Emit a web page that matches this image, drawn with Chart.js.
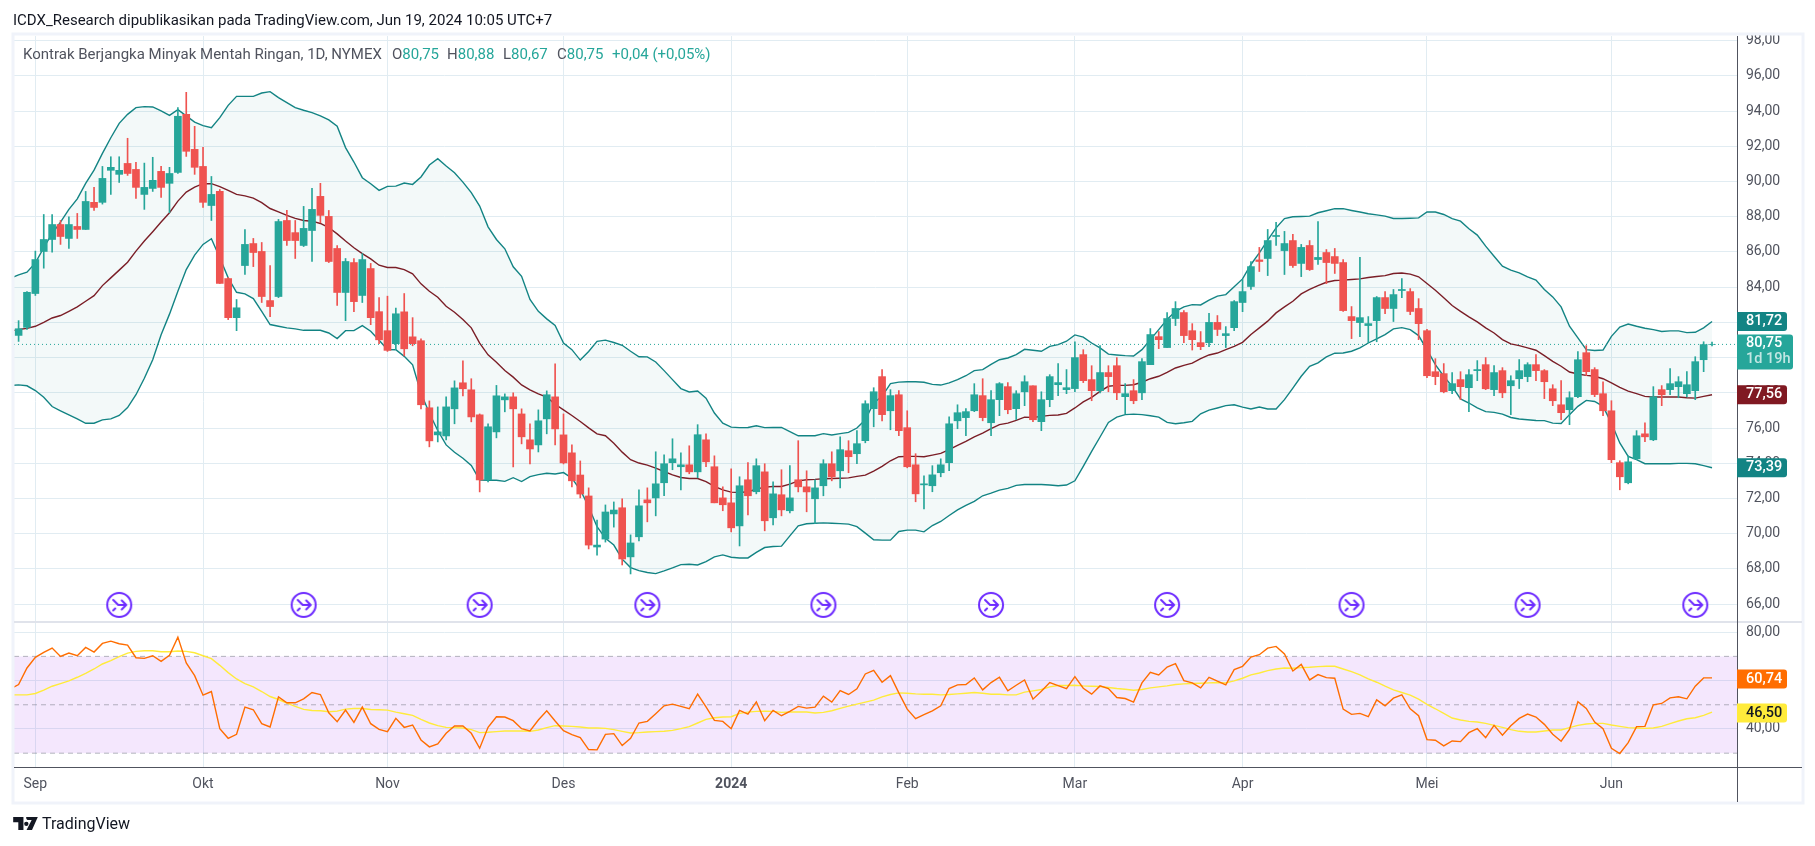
<!DOCTYPE html>
<html><head><meta charset="utf-8">
<style>
html,body{margin:0;padding:0;background:#fff;width:1815px;height:846px;overflow:hidden;font-family:Roboto,sans-serif}
canvas{position:absolute;left:0;top:0}
.t{position:absolute;white-space:nowrap;line-height:18px}
.g{color:#50535e}.v{color:#26a69a}
</style>
<script src="https://cdn.jsdelivr.net/npm/chart.js@4/dist/chart.umd.min.js"></script>
</head><body>
<canvas id="c" width="1815" height="846"></canvas>
<div class="t" style="left:13px;top:11px;font-size:15px;color:#131722" id="hd">ICDX_Research dipublikasikan pada TradingView.com, Jun 19, 2024 10:05 UTC+7</div>
<div class="t g" style="left:23px;top:45px;font-size:15px" id="lg">Kontrak Berjangka Minyak Mentah Ringan, 1D, NYMEX</div>
<div class="t" style="left:392px;top:45px;font-size:15px"><span class="g">O</span><span class="v">80,75</span></div>
<div class="t" style="left:447px;top:45px;font-size:15px"><span class="g">H</span><span class="v">80,88</span></div>
<div class="t" style="left:503px;top:45px;font-size:15px"><span class="g">L</span><span class="v">80,67</span></div>
<div class="t" style="left:557px;top:45px;font-size:15px"><span class="g">C</span><span class="v">80,75</span></div>
<div class="t v" style="left:612px;top:45px;font-size:15px">+0,04 (+0,05%)</div>
<svg style="position:absolute;left:13px;top:817px" width="25" height="13" viewBox="0 0 36 19"><path fill="#131722" d="M0 0H15V19H7.5V7.5H0ZM19 0H36L27.5 19H19.5L27 4.5H23A4 4 0 0 1 19 0ZM16 10A3.2 3.2 0 1 0 22.4 10A3.2 3.2 0 1 0 16 10Z"/></svg>
<div class="t" style="left:42px;top:815px;font-size:16px;color:#131722">TradingView</div>
<script>
const openP=[81.26,81.72,83.64,86.03,86.71,87.56,86.77,87.45,87.28,88.82,
88.82,90.64,90.41,91.03,90.69,89.27,89.61,90.58,89.9,90.52,
93.82,91.83,90.86,88.64,89.44,84.49,82.27,85.23,86.48,86.03,
83.24,83.47,87.79,87.1,86.37,87.22,89.16,88.02,86.2,83.7,
85.4,83.53,85.06,82.61,81.53,80.79,82.6,81.18,80.96,77.15,
75.61,75.55,77.09,78.57,78.17,76.75,73.05,75.78,77.6,77.77,
76.8,75.33,75.04,76.52,77.77,75.61,74.59,73.33,72.14,69.24,
69.69,71.12,71.47,68.68,69.82,71.92,72.03,72.89,74.03,73.8,
73.91,73.51,75.33,73.8,72.03,71.75,70.44,73.06,72.38,73.51,
70.9,72.21,71.3,73.06,72.66,71.98,72.72,73.97,73.57,74.71,
74.54,75.28,77.1,78.92,76.98,77.89,76.02,73.91,72.77,72.72,
73.46,74.03,76.41,76.59,76.98,77.84,76.3,77.61,78.35,77.1,
78.06,78.4,76.36,77.61,78.46,78.18,78.24,80.17,78.75,78.12,
79.15,79.54,77.78,78.12,78,79.6,81.19,80.57,82.22,82.56,
81.53,80.85,80.85,82,81.25,81.7,83.13,84.04,85.55,85.63,
86.88,86.08,86.65,85.35,86.37,85.57,85.97,85.74,85.4,82.33,
81.99,81.82,82.1,83.41,82.79,83.81,83.75,82.79,81.53,79.2,
79.09,78.12,78.75,78.29,79.26,79.6,78.18,79.26,78.4,78.8,
78.92,79.6,79.26,78.23,77.32,77.04,77.78,80.28,79.32,77.95,
76.98,74.03,72.89,74.25,75.67,75.33,78.18,78.18,78.35,77.95,
78.12,79.88,80.75];
const highP=[82.1,83.75,86.05,88.13,88.13,87.79,88,88.19,89.44,89.67,
90.86,91.41,91.41,92.46,91.09,91.05,91.38,90.86,90.81,94.2,
95.07,93.14,91.94,90.29,89.55,84.55,83.3,87.28,86.77,86.54,
85.23,87.85,88.36,87.79,88.59,89.61,89.9,88.36,86.37,85.63,
85.63,85.91,85.35,83.41,83.49,82.82,83.64,82.27,81.07,77.54,
77.2,77.77,78.68,79.82,78.8,76.8,76.24,78.42,77.94,78,
77.09,76.24,77.03,78.11,79.65,76.8,75.04,74.13,72.6,70.77,
71.63,71.8,71.98,69.93,72.49,72.6,74.65,74.48,75.39,74.59,
74.99,76.19,75.67,74.42,72.66,73.68,73.23,74.03,74.25,73.97,
72.95,73.63,73.86,75.28,73.57,73.06,74.2,74.65,75.5,75.28,
75.85,77.55,78.29,79.32,78.18,78.12,76.98,74.54,73.29,73.86,
74.25,76.64,77.32,77.1,78.52,78.8,78.12,78.58,78.58,78.12,
78.97,78.4,78.06,79.03,79.66,79.32,80.9,80.45,79.54,80.68,
79.54,80,78.52,78.75,79.94,81.65,81.48,82.56,83.18,82.67,
81.93,81.48,82.51,82.39,81.76,83.24,84.44,85.46,86.26,87.28,
87.68,87.17,87,86.43,86.65,87.73,86.14,86.2,85.57,82.9,
85.69,82.33,83.47,83.75,83.87,84.49,83.92,83.35,81.6,79.94,
79.66,79.15,79.2,79.32,79.83,80,79.54,79.43,78.97,79.89,
79.71,80.17,79.32,78.46,78.69,78.06,80.34,80.68,79.43,78.63,
77.55,74.14,74.42,75.85,76.3,78.35,78.41,79.37,78.92,79.2,
80.05,80.9,80.88];
const lowP=[80.92,81.6,83.53,85.08,85.99,86.43,86.2,86.77,87.28,88.36,
88.72,89.27,89.95,90.35,89.04,88.42,89.44,89.1,88.23,90.46,
91.43,90.41,88.53,87.79,84.21,82.16,81.53,84.72,85.17,83.13,
82.33,83.41,86.37,85.63,86.31,85.46,87.66,85.4,82.96,82.1,
82.61,83.13,81.87,80.79,80.35,80.45,80.1,80.67,77.09,74.93,
75.21,75.33,76.24,77.83,76.35,72.37,72.94,75.44,76.92,73.79,
75.1,73.96,74.64,75.67,75.04,73.96,72.65,72.03,69.13,68.78,
69.52,70.37,68.22,67.71,69.59,70.67,71.01,72.15,73.63,72.49,
73.4,73.17,73.8,71.75,71.3,70.1,69.3,71.07,72.26,70.16,
70.5,71.01,71.18,72.37,71.24,70.56,72.15,73,72.6,73.46,
73.97,75.16,76.07,76.41,75.9,75.56,73.74,71.81,71.41,72.38,
73.23,73.57,75.96,75.56,76.93,76.41,75.56,76.7,76.81,76.47,
77.27,76.36,75.85,77.21,77.84,77.95,78.06,78.58,77.55,78,
78.06,77.61,76.81,77.38,77.61,79.6,80.51,80.57,81.82,80.85,
80.43,80.45,80.62,81.25,80.57,81.53,82.61,83.87,84.89,84.66,
86.37,84.72,85.12,84.6,84.95,85.29,84.2,84.78,82.62,81.08,
81.19,80.85,80.9,82.5,82.05,83.41,82.44,81.02,78.86,78.46,
78,77.95,77.61,76.93,78.69,78.18,77.84,77.72,76.76,78.24,
78.63,78.69,77.67,77.27,76.47,76.19,77.72,78.97,77.78,76.7,
74.03,72.49,72.83,74.2,75.22,75.28,77.27,77.89,77.72,77.76,
77.61,79.2,80.67];
const closeP=[81.64,83.71,85.57,86.71,87.56,86.88,87.56,87.28,88.87,88.53,
90.18,90.81,90.64,90.46,89.67,89.67,90.07,89.67,90.46,93.71,
91.72,90.81,88.82,89.27,84.21,82.27,82.83,86.43,85.97,83.47,
82.9,87.73,86.65,86.65,87.34,88.42,88.08,85.46,83.7,85.46,
83.18,85.57,82.27,81.01,80.41,82.49,80.5,80.79,77.32,75.27,
75.78,77.2,78.28,78.23,76.63,73.05,76.07,77.83,77.77,77.09,
75.5,74.81,76.41,77.89,75.95,74.02,73,72.25,69.35,69.35,
71.23,71.34,68.56,69.47,71.58,71.75,72.83,73.97,74.25,73.91,
73.51,75.62,74.08,71.75,71.64,70.33,72.72,72.15,73.86,70.73,
72.26,71.35,72.03,72.66,72.37,72.6,73.97,73.23,74.77,74.37,
75.11,77.38,78.06,76.76,77.84,75.85,73.8,72.26,72.83,73.34,
73.91,76.24,76.87,76.93,77.89,76.59,77.61,78.52,77.04,77.95,
78.63,76.47,77.61,78.92,78.58,78.29,80,78.69,78.12,79.15,
78.92,78,77.95,77.55,79.77,81.31,81.02,82.22,82.79,81.25,
81.02,80.62,82,81.6,81.36,83.18,83.75,85.17,85.46,86.65,
86.94,86.48,85.23,86.26,85,85.69,85.4,85.35,82.67,82.1,
82.27,81.93,83.41,82.79,83.58,83.87,82.62,81.93,78.97,78.92,
78.06,78.52,78.35,79.03,79.32,78.23,79.15,78,78.69,79.26,
79.6,79.26,78.63,77.55,76.87,77.72,79.88,79.2,77.9,76.98,
74.2,73.23,74.08,75.56,75.5,77.78,77.89,78.52,78.63,78.46,
79.77,80.74,80.75];
// The line series begin one bar earlier than the candles, off the left edge.
const bbUpper=[84.51,
84.7,84.85,85.38,86.24,87.05,87.7,88.42,89.02,89.9,90.65,
91.6,92.49,93.31,93.82,94.2,94.26,94.24,94.01,93.76,94.09,
93.73,93.38,93.18,93.06,93.63,94.33,94.84,94.84,94.84,95.03,
95.11,94.77,94.48,94.2,94.05,93.92,93.73,93.5,93.14,91.93,
91.11,90.22,89.88,89.5,89.73,89.74,89.92,89.84,90.26,90.94,
91.3,90.88,90.5,89.97,89.37,88.61,87.43,86.71,86.18,85.16,
84.62,83.3,82.63,82.2,81.82,80.82,80.45,79.86,80.35,80.92,
80.99,80.86,80.7,80.36,80.05,80.04,79.75,79.26,78.75,78.24,
78.05,78.1,77.7,76.85,76.28,76.05,76.02,76.03,76.13,76.02,
76.03,76.03,75.8,75.56,75.56,75.56,75.68,75.6,75.68,75.75,
76,76.47,77.42,77.8,78.52,78.61,78.63,78.63,78.6,78.48,
78.44,78.56,78.75,78.97,79.26,79.32,79.62,79.88,79.98,80.17,
80.47,80.42,80.36,80.64,80.74,80.93,81.29,81.16,80.83,80.55,
80.2,80.15,80.11,80.09,80.45,81.02,81.59,82.16,82.63,82.88,
83.01,82.99,83.26,83.49,83.58,84.02,84.47,85.29,85.95,86.67,
87.37,87.9,88,88.02,88.04,88.23,88.34,88.46,88.46,88.36,
88.27,88.17,88.11,88.04,87.9,87.9,87.92,87.94,88.28,88.27,
88.13,87.89,87.75,87.32,86.96,86.33,85.76,85.19,84.97,84.81,
84.59,84.4,83.87,83.45,82.88,81.78,81.12,80.45,80.4,80.43,
81.21,81.74,81.91,81.78,81.67,81.59,81.48,81.52,81.52,81.42,
81.44,81.69,82.05];
const bbMiddle=[81.5,
81.6,81.66,81.78,82,82.25,82.39,82.63,82.88,83.2,83.52,
84.09,84.53,84.97,85.42,86.05,86.62,87.15,87.7,88.23,88.89,
89.4,89.69,89.88,89.88,89.71,89.5,89.27,89.19,89.06,88.8,
88.47,88.28,88.08,87.91,87.79,87.75,87.62,87.39,87.03,86.62,
86.24,85.91,85.61,85.25,85.12,85.12,85,84.76,84.19,83.77,
83.43,82.92,82.58,82.16,81.69,80.82,80.16,79.74,79.27,78.89,
78.45,78.17,77.94,77.75,77.35,77.03,76.71,76.37,76.01,75.67,
75.56,75.14,74.63,74.2,74.01,73.89,73.72,73.53,73.34,73.19,
73.13,73.13,72.96,72.68,72.49,72.36,72.34,72.38,72.53,72.64,
72.68,72.68,72.81,73,73.06,73.08,73.12,73.13,73.15,73.17,
73.25,73.32,73.55,73.82,74.14,74.37,74.39,74.39,74.37,74.46,
74.56,74.77,75.01,75.24,75.5,75.71,75.96,76.19,76.28,76.43,
76.62,76.6,76.66,76.72,76.74,76.83,77.14,77.48,77.74,78.08,
78.37,78.42,78.42,78.46,78.6,78.8,78.94,79.16,79.41,79.56,
79.69,79.94,80.15,80.26,80.45,80.64,80.87,81.31,81.69,82.07,
82.54,82.88,83.2,83.62,83.87,84.09,84.28,84.38,84.4,84.44,
84.47,84.55,84.61,84.66,84.78,84.81,84.74,84.59,84.21,83.83,
83.4,82.96,82.63,82.31,82.03,81.69,81.4,81.02,80.78,80.68,
80.55,80.42,80.11,79.79,79.51,79.18,79.07,78.99,78.94,78.8,
78.56,78.31,78.1,77.95,77.8,77.76,77.76,77.76,77.76,77.72,
77.7,77.8,77.89];
const bbLower=[78.42,
78.45,78.4,78.13,77.75,77.22,76.98,76.75,76.52,76.27,76.27,
76.46,76.52,76.71,77.16,77.89,78.83,79.88,81.3,82.47,83.77,
85,85.82,86.43,86.75,85.67,84.53,83.71,83.62,83.35,82.63,
81.88,81.78,81.69,81.63,81.55,81.55,81.55,81.4,81.08,81.53,
81.53,81.82,81.5,80.99,80.46,80.45,80.07,79.59,77.98,76.84,
75.86,75.04,74.62,74.28,73.87,73.05,73.03,73.03,72.97,73.18,
72.96,73.24,73.35,73.43,73.39,73.47,73.15,72.48,71.53,70.39,
69.73,69.35,68.55,68.07,67.9,67.79,67.73,67.88,68.05,68.24,
68.26,68.22,68.41,68.68,68.79,68.66,68.62,68.62,68.93,69.21,
69.27,69.29,69.87,70.44,70.56,70.59,70.61,70.59,70.57,70.54,
70.4,70.03,69.65,69.63,69.63,70.12,70.2,70.2,70.1,70.46,
70.69,71.03,71.35,71.6,71.83,72.15,72.3,72.47,72.57,72.74,
72.79,72.79,72.79,72.76,72.72,72.76,73,73.82,74.67,75.49,
76.32,76.62,76.76,76.79,76.76,76.7,76.62,76.32,76.24,76.3,
76.38,76.81,77.02,77.14,77.27,77.32,77.19,77.08,77.19,77.08,
77.08,77.61,78.27,78.94,79.51,79.7,80.04,80.25,80.26,80.36,
80.55,80.83,81.06,81.31,81.63,81.7,81.59,81.25,80.45,79.6,
78.94,78.37,77.65,77.42,77.14,76.93,76.89,76.79,76.6,76.51,
76.47,76.43,76.42,76.28,76.26,76.76,77.23,77.57,77.51,77.23,
76.28,75.15,74.39,74.2,73.97,73.97,73.97,73.97,73.99,73.99,
73.97,73.86,73.74];
const rsiValues=[56.58,
58.36,65.21,69.59,71.64,73.42,70,71.37,70.27,73.7,71.78,
75.34,76.3,75.21,74.66,69.45,69.18,70.27,67.95,70.41,77.95,
67.26,62.05,53.97,55.48,40.14,36.16,37.81,49.04,47.95,42.19,
40.82,53.29,50.82,50.82,52.47,55.07,54.25,46.71,43.01,47.81,
42.74,49.04,42.19,39.86,38.9,44.38,40.68,41.64,35.48,32.6,
33.84,38.22,41.23,41.23,38.22,32.05,40.68,45.07,44.93,43.42,
40.14,39.18,43.7,47.53,43.29,39.32,37.67,36.44,31.51,31.37,
37.81,38.08,33.15,36.16,42.47,43.15,46.3,49.59,50.27,49.32,
48.36,54.38,49.18,43.56,43.15,40.14,47.67,46.16,51.23,43.42,
47.67,45.48,47.26,49.32,48.63,49.04,53.56,51.1,55.89,54.25,
56.58,62.74,64.25,59.32,62.05,54.93,48.22,44.25,45.89,47.53,
49.59,56.71,58.22,58.36,61.1,56.16,59.18,61.37,55.75,58.08,
60.27,52.33,55.62,59.18,57.95,56.71,61.64,56.85,54.38,57.81,
56.71,53.01,52.6,51.1,59.04,63.42,62.33,65.62,66.99,60,
59.04,56.99,61.37,59.73,58.22,64.52,65.89,69.73,70.68,73.42,
74.11,70.96,63.97,66.71,60.27,62.47,61.23,60.96,48.22,46.03,
46.44,45.07,52.05,49.59,52.74,54.11,48.36,45.48,35.62,35.34,
33.01,35.07,34.79,38.49,40.14,36.44,41.51,37.4,41.37,44.38,
46.16,44.93,41.92,37.81,34.93,39.86,51.23,48.49,42.88,40.14,
32.05,29.86,34.38,40.96,41.1,50,50.55,52.88,53.29,52.47,
57.67,61.1,61.1];
const rsiAverage=[54.11,
54.11,54.11,54.66,56.03,57.67,58.77,59.86,61.37,63.01,64.79,
66.85,68.22,69.86,71.37,72.05,72.33,72.33,71.92,71.92,72.19,
72.05,71.51,70.27,69.04,66.3,63.29,60.68,58.77,57.4,55.48,
53.42,52.19,50.68,49.32,48.08,47.67,47.53,47.12,47.4,48.22,
48.49,48.49,48.08,47.95,47.81,46.99,46.3,45.62,43.97,42.47,
41.37,40.68,40.55,40.41,39.73,38.49,38.63,38.9,39.18,39.18,
39.18,39.04,39.59,40.55,41.37,41.23,41.1,40.82,40.41,40.41,
40.27,39.73,39.04,38.36,38.49,38.77,38.9,39.04,39.45,40.14,
40.96,42.47,43.97,44.66,44.93,45.07,46.44,46.99,47.26,47.4,
47.26,46.85,46.99,46.99,46.99,46.58,46.85,47.53,48.49,49.45,
50.27,51.1,51.92,53.29,54.25,54.93,54.79,54.52,54.38,54.38,
54.11,54.25,54.52,54.79,55.07,54.79,54.38,54.38,54.11,54.11,
55.21,55.75,56.3,57.4,57.95,57.95,58.08,57.81,57.67,57.53,
57.12,56.71,56.44,56.03,56.3,56.99,57.4,57.81,58.36,58.63,
58.77,58.9,59.04,59.18,59.04,59.86,60.96,62.33,63.15,64.11,
64.79,65.21,65.07,65.34,65.48,65.75,65.89,65.89,64.79,63.7,
62.33,60.68,59.32,57.67,56.16,55.07,53.97,52.33,50.14,48.36,
46.44,44.52,43.7,43.15,42.88,42.33,41.51,40.68,39.73,39.04,
38.77,38.77,39.18,39.59,39.59,40.55,41.51,42.05,42.33,42.33,
41.64,41.1,40.55,40.41,40.27,40.41,41.1,42.19,43.29,44.25,
44.66,45.62,46.99];
const monthBars=[2,22,44,65,85,106,126,146,168,190];
const monthNames=["Sep","Okt","Nov","Des","2024","Feb","Mar","Apr","Mei","Jun"];
const dividendBars=[12,34,55,75,96,116,137,159,180,200];
const dividendLevel=[65.95];
const lastPrice=[80.75];
const rsiLevels=[70,50,30];
const rsiTickValues=[80,60,40];
const tagTexts={upper:"81,72",price:"80,75",countdown:"1d 19h",middle:"77,56",lower:"73,39",rsi:"60,74",rsiMa:"46,50"};

const TEAL='#26a69a',RED='#ef5350',GRID='#e1ecf2',BBC='#138484',MIDC='#801922',RSIC='#ff6d00',MAC='#ffeb3b';
const fmt=v=>v.toFixed(2).replace('.',',');
const XMIN=-0.548,XMAX=204.98;
const lineData=a=>a.map((v,k)=>({x:k-1,y:v}));
const barData=(a,b)=>a.map((v,k)=>({x:k,y:[v,b[k]]}));
const candleColors=openP.map((o,k)=>closeP[k]>=o?TEAL:RED);
const lineDs=(label,data,color,yAxisID,extra)=>Object.assign({type:'line',label,data:lineData(data),borderColor:color,borderWidth:1.4,pointRadius:0,tension:0,yAxisID,xAxisID:'x',order:5,fill:false},extra||{});
const hLine=(label,v,color,dash,yAxisID,w)=>({type:'line',label,data:[{x:XMIN,y:v},{x:XMAX,y:v}],borderColor:color,borderWidth:w||1,borderDash:dash,pointRadius:0,yAxisID,xAxisID:'x',order:6,fill:false});

const icon=document.createElement('canvas');icon.width=28;icon.height=28;
(function(){const g=icon.getContext('2d');g.strokeStyle='#6d2bff';g.lineWidth=2;g.lineCap='round';g.lineJoin='round';
g.beginPath();g.arc(14,14,12,0,7);g.stroke();
g.beginPath();g.moveTo(8,9);g.lineTo(13,14);g.lineTo(20,14);g.moveTo(8,19.5);g.lineTo(10,17.5);g.moveTo(16.5,9.5);g.lineTo(21,14);g.lineTo(16.5,18.5);g.stroke();})();

const paneDecor={id:'paneDecor',
 beforeDatasetsDraw(ch){const c=ch.ctx,a=ch.chartArea,r=ch.scales.rsi;c.save();c.fillStyle='rgba(155,39,240,0.11)';
  const t=r.getPixelForValue(rsiLevels[0]),b=r.getPixelForValue(rsiLevels[2]);c.fillRect(a.left,t,a.right-a.left,b-t);c.restore();},
 afterDraw(ch){const c=ch.ctx,a=ch.chartArea,y=ch.scales.y,r=ch.scales.rsi;
  const R=a.right+65,L=a.left,B=ch.scales.x.bottom;c.save();
  c.strokeStyle='#f0f3fa';c.lineWidth=3;c.strokeRect(L-1,a.top-2,R-L+2,B-a.top+3);
  c.fillStyle='#e0e3eb';c.fillRect(L,Math.round(r.top)-1,R-L,2);
  c.fillStyle='#50535e';c.fillRect(L,Math.round(a.bottom),R-L,1);c.fillRect(Math.round(a.right),a.top,1,B-a.top);
  c.font='500 14.5px Roboto';c.textAlign='left';c.textBaseline='middle';
  const box=(top,h,w,bg)=>{c.fillStyle=bg;c.beginPath();c.roundRect(a.right,top,w,h,[0,3,3,0]);c.fill();};
  const tag=(yc,txt,bg,fg)=>{box(yc-9.5,19,50,bg);c.fillStyle=fg;c.fillText(txt,a.right+9,yc);};
  const last=s=>s[s.length-1];
  tag(y.getPixelForValue(last(bbUpper)),tagTexts.upper,BBC,'#fff');
  const p=y.getPixelForValue(lastPrice[0]);
  box(p-10,35,56,TEAL);
  c.fillStyle='#fff';c.fillText(tagTexts.price,a.right+9,p-1);
  c.fillStyle='rgba(255,255,255,.72)';c.fillText(tagTexts.countdown,a.right+9,p+15);
  tag(y.getPixelForValue(last(bbMiddle)),tagTexts.middle,MIDC,'#fff');
  tag(y.getPixelForValue(last(bbLower)),tagTexts.lower,BBC,'#fff');
  tag(r.getPixelForValue(last(rsiValues))+1,tagTexts.rsi,RSIC,'#fff');
  tag(r.getPixelForValue(last(rsiAverage))+1,tagTexts.rsiMa,MAC,'#131722');
  c.restore();}
};

new Chart(document.getElementById('c'),{
 type:'bar',
 plugins:[paneDecor],
 data:{datasets:[
  lineDs('BB upper',bbUpper,BBC,'y',{fill:{target:2},backgroundColor:'rgba(19,132,132,0.05)'}),
  lineDs('BB basis',bbMiddle,MIDC,'y'),
  lineDs('BB lower',bbLower,BBC,'y'),
  hLine('Last',lastPrice[0],TEAL,[1,3],'y'),
  {type:'bar',label:'Wick',data:barData(lowP,highP),backgroundColor:candleColors,barThickness:1,grouped:false,yAxisID:'y',xAxisID:'x',order:2},
  {type:'bar',label:'Body',data:barData(openP,closeP),backgroundColor:candleColors,barThickness:7,grouped:false,yAxisID:'y',xAxisID:'x',order:1},
  {type:'scatter',label:'Dividend',data:dividendBars.map(b=>({x:b,y:dividendLevel[0]})),pointStyle:icon,pointRadius:13,yAxisID:'y',xAxisID:'x',order:0},
  ...rsiLevels.map(v=>hLine('RSI '+v,v,'rgba(120,123,134,.55)',[5,4],'rsi')),
  lineDs('RSI',rsiValues,RSIC,'rsi',{order:3}),
  lineDs('RSI MA',rsiAverage,MAC,'rsi',{order:4})
 ]},
 options:{
  responsive:false,animation:false,devicePixelRatio:1,
  layout:{padding:{left:13,right:13,top:36,bottom:44}},
  plugins:{legend:{display:false},tooltip:{enabled:false}},
  datasets:{bar:{grouped:false,borderSkipped:false,borderWidth:0}},
  scales:{
   x:{type:'linear',min:XMIN,max:XMAX,offset:false,position:'bottom',
    grid:{color:GRID,drawTicks:false,offset:false},border:{display:false},
    afterBuildTicks(s){s.ticks=monthBars.map(v=>({value:v}));},
    afterFit(s){s.height=35;},
    ticks:{autoSkip:false,maxRotation:0,padding:9,color:'#50535e',
     font:c=>({family:'Roboto',size:14,weight:c.tick&&c.tick.value===85?'bold':'normal'}),
     callback:v=>monthNames[monthBars.indexOf(v)]}},
   y:{type:'linear',position:'right',stack:'panes',stackWeight:586,weight:0,min:64.98,max:98.27,beginAtZero:false,
    grid:{color:GRID,drawTicks:false},border:{display:false},
    afterFit(s){s.width=65;},
    ticks:{stepSize:2,includeBounds:false,autoSkip:false,padding:9,color:'#50535e',font:{family:'Roboto',size:14},callback:fmt}},
   rsi:{type:'linear',position:'right',stack:'panes',stackWeight:145,weight:1,min:24.3,max:84.2,beginAtZero:false,
    grid:{color:GRID,drawTicks:false},border:{display:false},
    afterFit(s){s.width=65;},
    afterBuildTicks(s){s.ticks=rsiTickValues.map(v=>({value:v}));},
    ticks:{autoSkip:false,padding:9,color:'#50535e',font:{family:'Roboto',size:14},callback:fmt}}
  }
 }
});
</script>
</body></html>
